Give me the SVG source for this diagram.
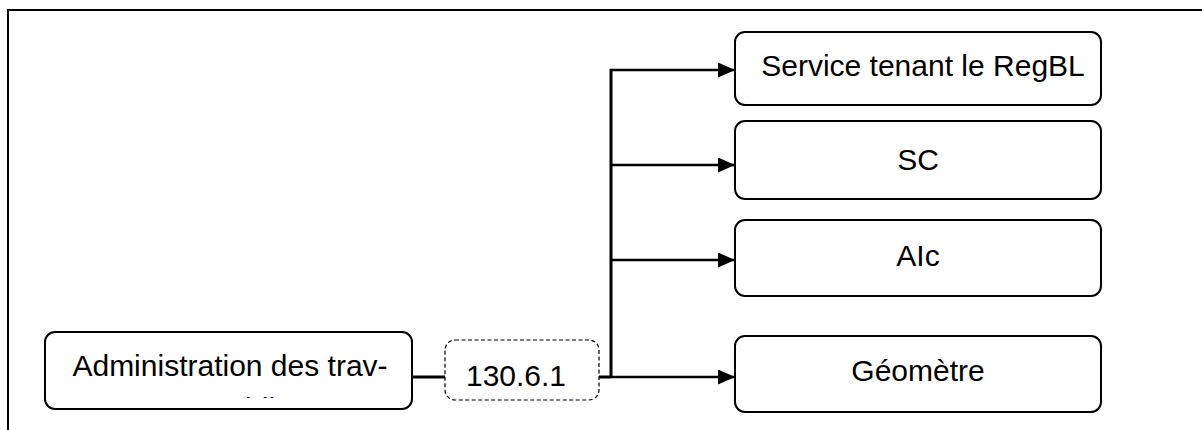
<svg xmlns="http://www.w3.org/2000/svg" width="1202" height="430" viewBox="0 0 1202 430">
  <style>
    .box { fill: #ffffff; stroke: #000000; stroke-width: 2; }
    .dash { fill: #ffffff; stroke: #000000; stroke-width: 1.2; stroke-dasharray: 4 2.5; }
    .lbl { font-family: "Liberation Sans", Arial, sans-serif; font-size: 30px; fill: #000000; text-anchor: middle; }
    .wire { fill: none; stroke: #000000; stroke-width: 3; }
    .arr { fill: none; stroke: #000000; stroke-width: 2.5; }
  </style>
  <defs>
    <marker id="ah" viewBox="0 0 17 15" refX="17" refY="7.5" markerWidth="17" markerHeight="15" markerUnits="userSpaceOnUse" orient="auto">
      <path d="M0,0 L17,7.5 L0,15 Z" fill="#000000"/>
    </marker>
    <clipPath id="clipAdmin">
      <rect x="46" y="333" width="365" height="65"/>
    </clipPath>
  </defs>
  <rect x="0" y="0" width="1202" height="430" fill="#ffffff"/>
  <g id="frame">
    <path d="M8,430 L8,10 L1202,10" fill="none" stroke="#000000" stroke-width="2"/>
  </g>
  <g id="connectors">
    <path class="wire" d="M412,377 L445,377"/>
    <path class="wire" d="M599,377 L611,377 M611,378 L611,69"/>
    <path class="arr" d="M610,70 L735,70" marker-end="url(#ah)"/>
    <path class="arr" d="M610,165 L735,165" marker-end="url(#ah)"/>
    <path class="arr" d="M610,260 L735,260" marker-end="url(#ah)"/>
    <path class="arr" d="M611,377 L735,377" marker-end="url(#ah)"/>
  </g>
  <g id="admin">
    <rect class="box" x="45" y="332" width="367" height="77" rx="10" ry="10"/>
    <g clip-path="url(#clipAdmin)">
      <text class="lbl" x="230" y="376">Administration des trav-</text>
      <text class="lbl" x="230" y="419">aux publics</text>
    </g>
  </g>
  <g id="ref">
    <rect class="dash" x="445" y="340" width="154" height="60" rx="10" ry="10"/>
    <text class="lbl" x="516" y="386">130.6.1</text>
  </g>
  <g id="regbl">
    <rect class="box" x="735" y="32" width="366" height="73" rx="10" ry="10"/>
    <text class="lbl" x="923" y="76">Service tenant le RegBL</text>
  </g>
  <g id="sc">
    <rect class="box" x="735" y="121" width="366" height="78" rx="10" ry="10"/>
    <text class="lbl" x="918" y="170">SC</text>
  </g>
  <g id="aic">
    <rect class="box" x="735" y="220" width="366" height="76" rx="10" ry="10"/>
    <text class="lbl" x="918" y="266">AIc</text>
  </g>
  <g id="geometre">
    <rect class="box" x="735" y="336" width="366" height="76" rx="10" ry="10"/>
    <text class="lbl" x="918" y="381">Géomètre</text>
  </g>
</svg>
